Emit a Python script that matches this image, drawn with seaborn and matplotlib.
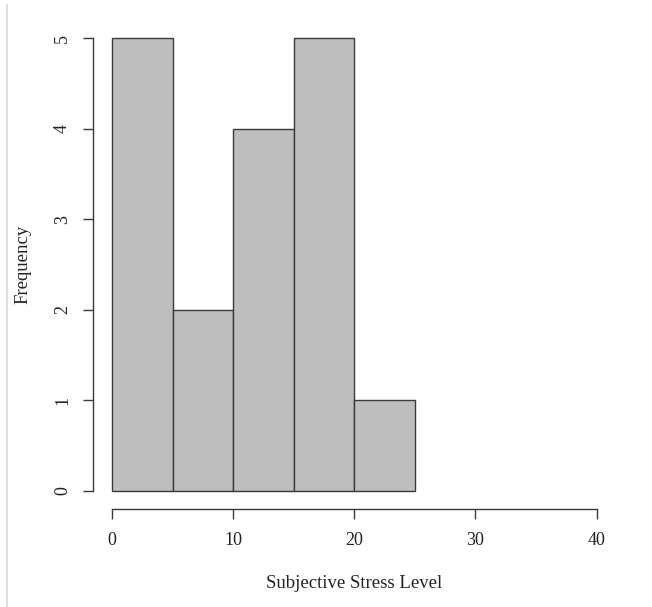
import numpy as np
import pandas as pd
import matplotlib
matplotlib.use("Agg")
import matplotlib.pyplot as plt
import seaborn as sns
from matplotlib.lines import Line2D

# histogram data
bin_edges = [0, 5, 10, 15, 20, 25]
bin_counts = [5, 2, 4, 5, 1]
x_ticks = [0, 10, 20, 30, 40]
y_ticks = [0, 1, 2, 3, 4, 5]

mids = [(a + b) / 2 for a, b in zip(bin_edges[:-1], bin_edges[1:])]
df = pd.DataFrame({"stress": mids, "n": bin_counts})

sns.set_style("white")
plt.rcParams['font.family'] = ['Liberation Serif', 'DejaVu Serif']

fig = plt.figure(figsize=(6.52, 6.07), dpi=100)
W, H = 652, 607
ax = fig.add_axes([92.6 / W, 1 - 509 / H, (616 - 92.6) / W, (509 - 20) / H])

sns.histplot(data=df, x="stress", weights="n", bins=bin_edges, ax=ax,
             color="#bebebe", alpha=1, edgecolor="#3a3a3a", linewidth=1.0)

ax.set_xlim(-1.6, 41.6)
ax.set_ylim(-0.2, 5.2)
ax.set_xticks(x_ticks)
ax.set_yticks(y_ticks)
for s in ["top", "right"]:
    ax.spines[s].set_visible(False)
ax.spines["left"].set_bounds(0, 5)
ax.spines["bottom"].set_bounds(0, 40)
for s in ["left", "bottom"]:
    ax.spines[s].set_color("#3a3a3a")
    ax.spines[s].set_linewidth(1.0)
ax.tick_params(axis="both", direction="out", length=7.5, width=1.0,
               color="#3a3a3a", labelsize=13, labelcolor="#222222", left=True, bottom=True)
ax.tick_params(axis="x", pad=9)
ax.tick_params(axis="y", pad=8)
for lab in ax.get_yticklabels():
    lab.set_rotation(90)
    lab.set_va("center")

ax.set_xlabel("Subjective Stress Level", fontsize=13.5, color="#222222", labelpad=19)
ax.set_ylabel("Frequency", fontsize=13.5, color="#222222", labelpad=16)

fig.add_artist(Line2D([7 / W, 7 / W], [0, 1 - 5 / H], color="#d8d8d8", linewidth=1.2))

fig.savefig("out.png", dpi=100, facecolor="white")
